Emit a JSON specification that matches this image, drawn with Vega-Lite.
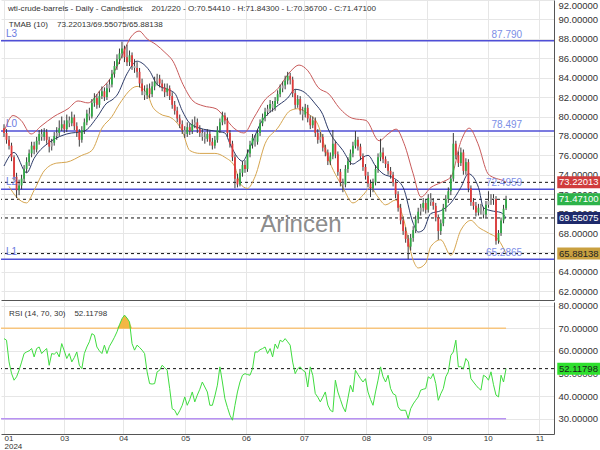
{
"$schema":"https://vega.github.io/schema/vega-lite/v6.json",
"padding":0,
"background":"white",
"spacing":0,
"config":{"view":{"stroke":null},"font":"Liberation Sans","scale":{"continuousPadding":0},"axis":{"gridColor":"#e6e6e6","domainColor":"#555555","labelColor":"#333333","labelFont":"Liberation Sans","labelFontSize":9.5,"ticks":false,"labelOverlap":false,"labelBound":false}},
"datasets":{
"c":[
{"i":0,"o":78.8,"h":79.2,"l":77.9,"c":78.3},{"i":1,"o":78.3,"h":78.7,"l":77.2,"c":77.6},{"i":2,"o":77.6,"h":78.0,"l":76.6,"c":77.0},{"i":3,"o":77.0,"h":77.3,"l":75.4,"c":75.8},{"i":4,"o":75.8,"h":76.0,"l":73.4,"c":73.8},{"i":5,"o":73.8,"h":74.2,"l":71.6,"c":72.4},{"i":6,"o":72.4,"h":73.5,"l":71.9,"c":72.9},{"i":7,"o":72.9,"h":74.0,"l":72.5,"c":73.6},{"i":8,"o":73.6,"h":75.0,"l":73.2,"c":74.6},{"i":9,"o":74.6,"h":75.8,"l":74.2,"c":75.3},
{"i":10,"o":75.3,"h":76.6,"l":74.9,"c":76.2},{"i":11,"o":76.2,"h":77.4,"l":75.8,"c":77.0},{"i":12,"o":77.0,"h":77.4,"l":76.1,"c":76.6},{"i":13,"o":76.6,"h":77.9,"l":76.3,"c":77.5},{"i":14,"o":77.5,"h":78.6,"l":77.1,"c":78.2},{"i":15,"o":78.2,"h":78.7,"l":77.5,"c":77.9},{"i":16,"o":77.9,"h":78.8,"l":77.5,"c":78.4},{"i":17,"o":78.4,"h":78.7,"l":77.2,"c":77.6},{"i":18,"o":77.6,"h":77.9,"l":76.3,"c":76.9},{"i":19,"o":76.9,"h":77.7,"l":76.5,"c":77.3},
{"i":20,"o":77.3,"h":78.4,"l":77.0,"c":78.0},{"i":21,"o":78.0,"h":78.9,"l":77.6,"c":78.3},{"i":22,"o":78.3,"h":79.6,"l":78.0,"c":78.8},{"i":23,"o":78.8,"h":80.0,"l":78.5,"c":79.2},{"i":24,"o":79.2,"h":79.6,"l":78.3,"c":78.7},{"i":25,"o":78.7,"h":80.2,"l":78.4,"c":79.6},{"i":26,"o":79.6,"h":80.0,"l":78.9,"c":79.3},{"i":27,"o":79.3,"h":80.5,"l":79.0,"c":79.9},{"i":28,"o":79.9,"h":80.2,"l":78.6,"c":79.0},{"i":29,"o":79.0,"h":79.4,"l":77.9,"c":78.4},
{"i":30,"o":78.4,"h":78.7,"l":76.9,"c":77.6},{"i":31,"o":77.6,"h":79.0,"l":77.3,"c":78.6},{"i":32,"o":78.6,"h":79.8,"l":78.2,"c":79.4},{"i":33,"o":79.4,"h":80.7,"l":79.1,"c":80.3},{"i":34,"o":80.3,"h":80.9,"l":79.6,"c":80.0},{"i":35,"o":80.0,"h":81.8,"l":79.8,"c":81.4},{"i":36,"o":81.4,"h":82.4,"l":81.0,"c":81.9},{"i":37,"o":81.9,"h":82.3,"l":80.8,"c":81.2},{"i":38,"o":81.2,"h":82.6,"l":80.9,"c":82.1},{"i":39,"o":82.1,"h":83.1,"l":81.8,"c":82.6},
{"i":40,"o":82.6,"h":83.0,"l":81.6,"c":82.0},{"i":41,"o":82.0,"h":83.4,"l":81.7,"c":82.9},{"i":42,"o":82.9,"h":83.8,"l":82.5,"c":83.3},{"i":43,"o":83.3,"h":84.8,"l":83.0,"c":84.4},{"i":44,"o":84.4,"h":85.7,"l":84.0,"c":85.2},{"i":45,"o":85.2,"h":86.4,"l":84.8,"c":85.9},{"i":46,"o":85.9,"h":87.0,"l":85.4,"c":86.5},{"i":47,"o":86.5,"h":87.7,"l":86.0,"c":87.0},{"i":48,"o":87.0,"h":87.3,"l":85.6,"c":86.1},{"i":49,"o":86.1,"h":87.4,"l":85.2,"c":85.6},
{"i":50,"o":85.6,"h":86.8,"l":85.2,"c":86.3},{"i":51,"o":86.3,"h":86.6,"l":84.8,"c":85.2},{"i":52,"o":85.2,"h":85.9,"l":84.5,"c":85.0},{"i":53,"o":85.0,"h":85.6,"l":84.0,"c":84.6},{"i":54,"o":84.6,"h":85.0,"l":83.0,"c":83.4},{"i":55,"o":83.4,"h":83.9,"l":82.2,"c":82.6},{"i":56,"o":82.6,"h":83.2,"l":81.7,"c":82.2},{"i":57,"o":82.2,"h":83.3,"l":81.8,"c":82.9},{"i":58,"o":82.9,"h":83.4,"l":81.9,"c":82.3},{"i":59,"o":82.3,"h":83.6,"l":82.0,"c":83.1},
{"i":60,"o":83.1,"h":84.1,"l":82.7,"c":83.6},{"i":61,"o":83.6,"h":84.4,"l":83.2,"c":83.9},{"i":62,"o":83.9,"h":84.3,"l":83.0,"c":83.4},{"i":63,"o":83.4,"h":83.8,"l":82.6,"c":83.0},{"i":64,"o":83.0,"h":83.4,"l":82.0,"c":82.5},{"i":65,"o":82.5,"h":83.4,"l":82.1,"c":82.9},{"i":66,"o":82.9,"h":83.2,"l":81.7,"c":82.1},{"i":67,"o":82.1,"h":82.5,"l":80.8,"c":81.2},{"i":68,"o":81.2,"h":81.6,"l":80.2,"c":80.6},{"i":69,"o":80.6,"h":81.0,"l":79.4,"c":79.8},
{"i":70,"o":79.8,"h":80.2,"l":78.8,"c":79.2},{"i":71,"o":79.2,"h":79.6,"l":78.2,"c":78.6},{"i":72,"o":78.6,"h":79.0,"l":77.8,"c":78.2},{"i":73,"o":78.2,"h":79.4,"l":77.9,"c":78.9},{"i":74,"o":78.9,"h":79.3,"l":78.1,"c":78.5},{"i":75,"o":78.5,"h":79.7,"l":78.2,"c":79.2},{"i":76,"o":79.2,"h":80.0,"l":78.8,"c":79.4},{"i":77,"o":79.4,"h":79.8,"l":78.3,"c":78.7},{"i":78,"o":78.7,"h":79.1,"l":77.9,"c":78.3},{"i":79,"o":78.3,"h":78.7,"l":77.5,"c":77.9},
{"i":80,"o":77.9,"h":78.4,"l":77.2,"c":77.7},{"i":81,"o":77.7,"h":78.7,"l":77.4,"c":78.2},{"i":82,"o":78.2,"h":78.5,"l":77.0,"c":77.4},{"i":83,"o":77.4,"h":77.8,"l":76.6,"c":77.0},{"i":84,"o":77.0,"h":78.0,"l":76.7,"c":77.6},{"i":85,"o":77.6,"h":79.0,"l":77.3,"c":78.6},{"i":86,"o":78.6,"h":79.8,"l":78.3,"c":79.4},{"i":87,"o":79.4,"h":80.5,"l":79.1,"c":80.1},{"i":88,"o":80.1,"h":80.4,"l":79.2,"c":79.6},{"i":89,"o":79.6,"h":79.9,"l":77.9,"c":78.3},
{"i":90,"o":78.3,"h":78.6,"l":76.8,"c":77.2},{"i":91,"o":77.2,"h":77.5,"l":75.4,"c":75.8},{"i":92,"o":75.8,"h":76.1,"l":72.6,"c":73.6},{"i":93,"o":73.6,"h":74.1,"l":72.7,"c":73.0},{"i":94,"o":73.0,"h":74.6,"l":72.8,"c":74.2},{"i":95,"o":74.2,"h":75.4,"l":73.8,"c":75.0},{"i":96,"o":75.0,"h":75.5,"l":74.2,"c":74.6},{"i":97,"o":74.6,"h":76.6,"l":74.3,"c":76.2},{"i":98,"o":76.2,"h":77.5,"l":75.8,"c":77.1},{"i":99,"o":77.1,"h":78.2,"l":76.7,"c":77.8},
{"i":100,"o":77.8,"h":78.1,"l":76.9,"c":77.4},{"i":101,"o":77.4,"h":78.7,"l":77.1,"c":78.3},{"i":102,"o":78.3,"h":79.7,"l":78.0,"c":79.3},{"i":103,"o":79.3,"h":80.3,"l":79.0,"c":79.9},{"i":104,"o":79.9,"h":80.9,"l":79.5,"c":80.5},{"i":105,"o":80.5,"h":81.2,"l":80.1,"c":80.8},{"i":106,"o":80.8,"h":81.7,"l":80.4,"c":81.3},{"i":107,"o":81.3,"h":81.6,"l":80.5,"c":80.9},{"i":108,"o":80.9,"h":82.0,"l":80.6,"c":81.6},{"i":109,"o":81.6,"h":82.7,"l":81.3,"c":82.3},
{"i":110,"o":82.3,"h":83.3,"l":82.0,"c":82.9},{"i":111,"o":82.9,"h":83.6,"l":82.5,"c":83.2},{"i":112,"o":83.2,"h":84.2,"l":82.8,"c":83.7},{"i":113,"o":83.7,"h":84.6,"l":83.3,"c":84.2},{"i":114,"o":84.2,"h":84.5,"l":83.3,"c":83.8},{"i":115,"o":83.8,"h":84.1,"l":82.0,"c":82.4},{"i":116,"o":82.4,"h":82.8,"l":80.8,"c":81.2},{"i":117,"o":81.2,"h":82.2,"l":80.9,"c":81.8},{"i":118,"o":81.8,"h":82.1,"l":80.2,"c":80.6},{"i":119,"o":80.6,"h":81.0,"l":79.6,"c":80.2},
{"i":120,"o":80.2,"h":81.3,"l":79.9,"c":80.9},{"i":121,"o":80.9,"h":81.2,"l":79.4,"c":79.8},{"i":122,"o":79.8,"h":80.1,"l":78.7,"c":79.1},{"i":123,"o":79.1,"h":80.0,"l":78.8,"c":79.6},{"i":124,"o":79.6,"h":79.9,"l":77.9,"c":78.3},{"i":125,"o":78.3,"h":78.7,"l":77.2,"c":77.6},{"i":126,"o":77.6,"h":78.4,"l":77.3,"c":77.9},{"i":127,"o":77.9,"h":78.2,"l":76.4,"c":76.8},{"i":128,"o":76.8,"h":77.1,"l":75.9,"c":76.3},{"i":129,"o":76.3,"h":76.6,"l":75.0,"c":75.4},
{"i":130,"o":75.4,"h":76.3,"l":75.0,"c":75.9},{"i":131,"o":75.9,"h":78.6,"l":75.6,"c":77.2},{"i":132,"o":77.2,"h":77.5,"l":75.7,"c":76.1},{"i":133,"o":76.1,"h":76.4,"l":73.9,"c":74.3},{"i":134,"o":74.3,"h":74.6,"l":72.8,"c":73.2},{"i":135,"o":73.2,"h":73.6,"l":72.2,"c":73.0},{"i":136,"o":73.0,"h":75.0,"l":72.7,"c":74.6},{"i":137,"o":74.6,"h":75.8,"l":74.2,"c":75.4},{"i":138,"o":75.4,"h":76.6,"l":75.0,"c":76.2},{"i":139,"o":76.2,"h":77.4,"l":75.8,"c":77.0},
{"i":140,"o":77.0,"h":78.5,"l":76.7,"c":77.6},{"i":141,"o":77.6,"h":77.9,"l":76.5,"c":76.9},{"i":142,"o":76.9,"h":77.2,"l":75.5,"c":75.9},{"i":143,"o":75.9,"h":76.2,"l":74.4,"c":74.8},{"i":144,"o":74.8,"h":75.1,"l":73.5,"c":73.9},{"i":145,"o":73.9,"h":74.3,"l":72.7,"c":73.1},{"i":146,"o":73.1,"h":73.5,"l":71.7,"c":72.6},{"i":147,"o":72.6,"h":73.6,"l":72.2,"c":73.2},{"i":148,"o":73.2,"h":75.0,"l":72.9,"c":74.6},{"i":149,"o":74.6,"h":76.2,"l":74.2,"c":75.8},
{"i":150,"o":75.8,"h":77.7,"l":75.4,"c":76.3},{"i":151,"o":76.3,"h":76.8,"l":75.2,"c":75.6},{"i":152,"o":75.6,"h":75.9,"l":74.7,"c":75.1},{"i":153,"o":75.1,"h":75.4,"l":74.0,"c":74.4},{"i":154,"o":74.4,"h":74.8,"l":73.6,"c":74.0},{"i":155,"o":74.0,"h":74.3,"l":72.8,"c":73.2},{"i":156,"o":73.2,"h":73.5,"l":71.6,"c":72.0},{"i":157,"o":72.0,"h":72.3,"l":70.2,"c":70.6},{"i":158,"o":70.6,"h":71.0,"l":68.9,"c":69.3},{"i":159,"o":69.3,"h":69.7,"l":67.8,"c":68.2},
{"i":160,"o":68.2,"h":68.6,"l":67.0,"c":67.4},{"i":161,"o":67.4,"h":67.8,"l":65.3,"c":66.6},{"i":162,"o":66.6,"h":67.9,"l":66.2,"c":67.5},{"i":163,"o":67.5,"h":68.7,"l":67.1,"c":68.3},{"i":164,"o":68.3,"h":69.8,"l":68.0,"c":69.4},{"i":165,"o":69.4,"h":70.6,"l":69.0,"c":70.2},{"i":166,"o":70.2,"h":71.0,"l":69.8,"c":70.6},{"i":167,"o":70.6,"h":71.6,"l":70.2,"c":71.1},{"i":168,"o":71.1,"h":71.5,"l":70.0,"c":70.4},{"i":169,"o":70.4,"h":72.0,"l":70.1,"c":71.6},
{"i":170,"o":71.6,"h":72.1,"l":70.8,"c":71.2},{"i":171,"o":71.2,"h":71.6,"l":70.4,"c":70.8},{"i":172,"o":70.8,"h":71.1,"l":69.2,"c":69.6},{"i":173,"o":69.6,"h":69.9,"l":67.3,"c":68.2},{"i":174,"o":68.2,"h":69.4,"l":67.8,"c":69.0},{"i":175,"o":69.0,"h":71.0,"l":68.7,"c":70.6},{"i":176,"o":70.6,"h":71.9,"l":70.2,"c":71.5},{"i":177,"o":71.5,"h":72.7,"l":71.1,"c":72.3},{"i":178,"o":72.3,"h":74.0,"l":71.9,"c":73.6},{"i":179,"o":73.6,"h":78.3,"l":73.3,"c":77.2},
{"i":180,"o":77.2,"h":77.5,"l":75.6,"c":76.0},{"i":181,"o":76.0,"h":76.4,"l":74.8,"c":75.2},{"i":182,"o":75.2,"h":76.8,"l":74.9,"c":76.3},{"i":183,"o":76.3,"h":76.6,"l":74.0,"c":74.4},{"i":184,"o":74.4,"h":75.7,"l":74.0,"c":75.3},{"i":185,"o":75.3,"h":75.6,"l":72.2,"c":72.6},{"i":186,"o":72.6,"h":72.9,"l":70.8,"c":71.2},{"i":187,"o":71.2,"h":71.6,"l":70.4,"c":70.8},{"i":188,"o":70.8,"h":71.2,"l":69.7,"c":70.1},{"i":189,"o":70.1,"h":71.0,"l":69.8,"c":70.6},
{"i":190,"o":70.6,"h":71.0,"l":69.9,"c":70.3},{"i":191,"o":70.3,"h":70.7,"l":69.5,"c":69.9},{"i":192,"o":69.9,"h":71.3,"l":69.6,"c":70.9},{"i":193,"o":70.9,"h":72.3,"l":70.6,"c":71.3},{"i":194,"o":71.3,"h":72.0,"l":70.9,"c":71.6},{"i":195,"o":71.6,"h":72.0,"l":70.9,"c":71.5},{"i":196,"o":71.5,"h":71.8,"l":66.8,"c":67.2},{"i":197,"o":67.2,"h":68.3,"l":66.9,"c":68.0},{"i":198,"o":68.0,"h":69.6,"l":67.7,"c":69.3},{"i":199,"o":69.3,"h":70.9,"l":69.0,"c":70.5},
{"i":200,"o":70.5441,"h":71.843,"l":70.367,"c":71.471}
],
"up":[
{"i":0,"v":78.4},{"i":3.6,"v":80.1},{"i":6.8,"v":79.6},{"i":10.8,"v":78.2},{"i":14.7,"v":79.0},{"i":19.9,"v":80.0},{"i":25.5,"v":80.8},{"i":29.5,"v":81.6},{"i":33.5,"v":81.4},{"i":38.6,"v":82.8},{"i":42.6,"v":84.0},{"i":46.6,"v":86.0},{"i":50.6,"v":88.2},{"i":53.8,"v":88.8},{"i":57,"v":88.0},{"i":60.6,"v":87.4},{"i":64.1,"v":86.6},{"i":67.3,"v":85.7},{"i":71.3,"v":83.3},{"i":75.3,"v":81.6},{"i":79.3,"v":81.1},{"i":84.5,"v":80.8},{"i":87.6,"v":80.0},{"i":91.6,"v":78.8},{"i":95.6,"v":78.3},{"i":99.6,"v":79.9},{"i":103.6,"v":81.6},{"i":109.2,"v":82.9},{"i":114.3,"v":84.7},{"i":117.5,"v":85.3},{"i":121.1,"v":84.7},{"i":125.1,"v":83.0},{"i":129.5,"v":82.3},{"i":133.5,"v":80.9},{"i":139,"v":79.8},{"i":144.2,"v":79.6},{"i":149.4,"v":77.5},{"i":153,"v":78.2},{"i":156.2,"v":78.7},{"i":159.4,"v":77.2},{"i":163,"v":74.1},{"i":166.1,"v":71.7},{"i":170.1,"v":72.7},{"i":174.1,"v":73.2},{"i":178.1,"v":73.8},{"i":182.1,"v":77.5},{"i":185.3,"v":78.8},{"i":188.8,"v":77.2},{"i":192.8,"v":74.1},{"i":195.2,"v":73.7},{"i":198.8,"v":73.4},{"i":200,"v":73.22}
],
"mid":[
{"i":0,"v":74.9},{"i":4,"v":76.3},{"i":9,"v":74.2},{"i":12,"v":75.7},{"i":19,"v":77.5},{"i":25,"v":78.2},{"i":32,"v":78.5},{"i":37,"v":79.9},{"i":41,"v":81.4},{"i":43,"v":81.7},{"i":45,"v":82.2},{"i":49,"v":84.4},{"i":53,"v":85.7},{"i":55,"v":85.5},{"i":58,"v":84.7},{"i":61,"v":83.3},{"i":65,"v":82.8},{"i":68,"v":82.4},{"i":71,"v":80.6},{"i":74,"v":79.3},{"i":78,"v":78.8},{"i":84,"v":78.5},{"i":88,"v":78.3},{"i":90,"v":77.2},{"i":93,"v":75.8},{"i":95,"v":75.4},{"i":98,"v":76.8},{"i":102,"v":79.2},{"i":108,"v":80.9},{"i":113,"v":81.9},{"i":116,"v":82.8},{"i":119,"v":82.6},{"i":124,"v":81.3},{"i":127,"v":80.2},{"i":129,"v":78.8},{"i":135,"v":76.5},{"i":139,"v":75.1},{"i":141,"v":75.4},{"i":145,"v":76.0},{"i":148,"v":74.9},{"i":151,"v":74.1},{"i":155,"v":73.7},{"i":159,"v":72.7},{"i":163,"v":69.0},{"i":165,"v":68.1},{"i":167,"v":68.3},{"i":170,"v":70.0},{"i":174,"v":70.3},{"i":178,"v":71.1},{"i":182,"v":72.7},{"i":185,"v":74.1},{"i":189,"v":72.7},{"i":191,"v":70.6},{"i":194,"v":70.3},{"i":198,"v":70.1},{"i":200,"v":69.55}
],
"low":[
{"i":2,"v":72.8},{"i":5,"v":71.7},{"i":9,"v":71.1},{"i":12,"v":72.4},{"i":16,"v":74.4},{"i":21,"v":75.2},{"i":25,"v":75.3},{"i":31,"v":76.0},{"i":35,"v":76.5},{"i":39,"v":78.8},{"i":43,"v":80.0},{"i":46,"v":81.3},{"i":53,"v":83.1},{"i":57,"v":82.4},{"i":59,"v":81.1},{"i":62,"v":80.3},{"i":67,"v":79.8},{"i":71,"v":78.5},{"i":74,"v":76.5},{"i":78,"v":76.2},{"i":84,"v":76.2},{"i":88,"v":75.8},{"i":92,"v":74.8},{"i":94,"v":73.1},{"i":97,"v":72.6},{"i":100,"v":73.8},{"i":104,"v":77.2},{"i":109,"v":78.8},{"i":114,"v":80.6},{"i":117,"v":80.8},{"i":121,"v":80.3},{"i":125,"v":79.2},{"i":129,"v":75.8},{"i":135,"v":72.7},{"i":139,"v":71.1},{"i":143,"v":71.9},{"i":146,"v":72.7},{"i":149,"v":71.7},{"i":152,"v":70.9},{"i":156,"v":71.4},{"i":159,"v":69.6},{"i":163,"v":65.2},{"i":165,"v":64.4},{"i":168,"v":64.9},{"i":170,"v":66.6},{"i":174,"v":67.3},{"i":178,"v":65.7},{"i":182,"v":68.3},{"i":186,"v":69.3},{"i":189,"v":68.6},{"i":193,"v":68.0},{"i":197,"v":67.3},{"i":200,"v":65.88}
],
"r":[
{"i":0,"r":65.4},{"i":1,"r":64.7},{"i":2,"r":55.1},{"i":3,"r":50.0},{"i":4,"r":47.0},{"i":5,"r":48.5},{"i":6,"r":51.4},{"i":7,"r":55.0},{"i":8,"r":58.8},{"i":9,"r":59.5},{"i":10,"r":60.0},{"i":11,"r":61.0},{"i":12,"r":57.3},{"i":13,"r":61.0},{"i":14,"r":61.7},{"i":15,"r":58.8},{"i":16,"r":60.0},{"i":17,"r":61.0},{"i":18,"r":53.6},{"i":19,"r":58.8},
{"i":20,"r":58.5},{"i":21,"r":59.5},{"i":22,"r":57.3},{"i":23,"r":63.2},{"i":24,"r":60.0},{"i":25,"r":56.6},{"i":26,"r":58.8},{"i":27,"r":55.1},{"i":28,"r":57.0},{"i":29,"r":59.5},{"i":30,"r":53.6},{"i":31,"r":52.1},{"i":32,"r":58.8},{"i":33,"r":61.7},{"i":34,"r":64.0},{"i":35,"r":67.6},{"i":36,"r":66.9},{"i":37,"r":61.7},{"i":38,"r":60.0},{"i":39,"r":58.8},
{"i":40,"r":62.5},{"i":41,"r":58.8},{"i":42,"r":62.0},{"i":43,"r":63.9},{"i":44,"r":66.0},{"i":45,"r":68.4},{"i":46,"r":71.5},{"i":47,"r":74.2},{"i":48,"r":75.8},{"i":49,"r":74.5},{"i":50,"r":72.8},{"i":51,"r":63.2},{"i":52,"r":60.3},{"i":53,"r":62.5},{"i":54,"r":61.5},{"i":55,"r":60.3},{"i":56,"r":58.8},{"i":57,"r":50.7},{"i":58,"r":45.5},{"i":59,"r":45.3},
{"i":60,"r":45.5},{"i":61,"r":50.7},{"i":62,"r":51.4},{"i":63,"r":53.6},{"i":64,"r":52.5},{"i":65,"r":51.4},{"i":66,"r":43.3},{"i":67,"r":34.4},{"i":68,"r":33.7},{"i":69,"r":31.5},{"i":70,"r":33.5},{"i":71,"r":35.9},{"i":72,"r":39.6},{"i":73,"r":35.9},{"i":74,"r":38.5},{"i":75,"r":41.8},{"i":76,"r":37.4},{"i":77,"r":40.4},{"i":78,"r":43.0},{"i":79,"r":46.2},
{"i":80,"r":44.0},{"i":81,"r":41.8},{"i":82,"r":35.9},{"i":83,"r":35.9},{"i":84,"r":40.0},{"i":85,"r":44.8},{"i":86,"r":52.9},{"i":87,"r":46.2},{"i":88,"r":38.8},{"i":89,"r":35.0},{"i":90,"r":31.5},{"i":91,"r":29.3},{"i":92,"r":35.9},{"i":93,"r":41.8},{"i":94,"r":46.2},{"i":95,"r":49.2},{"i":96,"r":49.9},{"i":97,"r":49.5},{"i":98,"r":49.2},{"i":99,"r":52.1},
{"i":100,"r":59.5},{"i":101,"r":59.5},{"i":102,"r":60.5},{"i":103,"r":61.0},{"i":104,"r":61.7},{"i":105,"r":58.8},{"i":106,"r":61.0},{"i":107,"r":57.3},{"i":108,"r":63.0},{"i":109,"r":61.0},{"i":110,"r":64.7},{"i":111,"r":64.0},{"i":112,"r":65.4},{"i":113,"r":64.0},{"i":114,"r":62.5},{"i":115,"r":55.0},{"i":116,"r":49.9},{"i":117,"r":52.1},{"i":118,"r":52.9},{"i":119,"r":51.4},
{"i":120,"r":50.7},{"i":121,"r":44.0},{"i":122,"r":52.9},{"i":123,"r":49.2},{"i":124,"r":41.1},{"i":125,"r":39.5},{"i":126,"r":37.4},{"i":127,"r":39.5},{"i":128,"r":41.8},{"i":129,"r":36.0},{"i":130,"r":33.7},{"i":131,"r":33.0},{"i":132,"r":47.0},{"i":133,"r":41.8},{"i":134,"r":38.5},{"i":135,"r":35.2},{"i":136,"r":33.0},{"i":137,"r":39.0},{"i":138,"r":44.8},{"i":139,"r":41.8},
{"i":140,"r":51.4},{"i":141,"r":49.5},{"i":142,"r":47.7},{"i":143,"r":46.2},{"i":144,"r":47.7},{"i":145,"r":41.8},{"i":146,"r":38.5},{"i":147,"r":35.9},{"i":148,"r":41.8},{"i":149,"r":47.0},{"i":150,"r":52.9},{"i":151,"r":48.5},{"i":152,"r":46.2},{"i":153,"r":49.2},{"i":154,"r":43.3},{"i":155,"r":41.0},{"i":156,"r":40.4},{"i":157,"r":35.2},{"i":158,"r":33.7},{"i":159,"r":33.7},
{"i":160,"r":33.7},{"i":161,"r":30.0},{"i":162,"r":34.4},{"i":163,"r":36.5},{"i":164,"r":38.1},{"i":165,"r":39.6},{"i":166,"r":42.6},{"i":167,"r":43.0},{"i":168,"r":43.3},{"i":169,"r":48.5},{"i":170,"r":47.7},{"i":171,"r":49.9},{"i":172,"r":45.5},{"i":173,"r":38.1},{"i":174,"r":41.0},{"i":175,"r":43.3},{"i":176,"r":48.5},{"i":177,"r":50.7},{"i":178,"r":58.0},{"i":179,"r":59.5},
{"i":180,"r":64.7},{"i":181,"r":52.9},{"i":182,"r":53.0},{"i":183,"r":52.1},{"i":184,"r":56.6},{"i":185,"r":55.1},{"i":186,"r":47.7},{"i":187,"r":46.2},{"i":188,"r":44.8},{"i":189,"r":43.5},{"i":190,"r":42.6},{"i":191,"r":49.2},{"i":192,"r":48.5},{"i":193,"r":47.0},{"i":194,"r":50.7},{"i":195,"r":45.0},{"i":196,"r":40.4},{"i":197,"r":39.6},{"i":198,"r":49.2},{"i":199,"r":46.2},
{"i":200,"r":52.11798}
],
"lv":[{"v":87.79,"n":"L3","t":"87.790"},{"v":78.497,"n":"L0","t":"78.497"},{"v":72.4959,"n":"L2","t":"72.4959"},{"v":65.2865,"n":"L1","t":"65.2865"}],
"dl":[{"v":73.22013},{"v":71.471},{"v":69.55075},{"v":65.88138}],
"tg":[{"k":"upper","v":73.22013,"t":"73.22013"},{"k":"close","v":71.471,"t":"71.47100"},{"k":"mid","v":69.55075,"t":"69.55075"},{"k":"lower","v":65.88138,"t":"65.88138"}],
"rt":[{"k":"rsi","v":52.11798,"t":"52.11798"}],
"one":[{}]
},
"vconcat":[
{
"width":553,"height":300,
"resolve":{"axis":{"x":"independent","y":"independent"}},
"layer":[
{"data":{"name":"lv"},"mark":{"type":"rule","color":"#4f4fd6","strokeWidth":1.5},
 "encoding":{"y":{"field":"v","type":"quantitative","title":null,"scale":{"domain":[61.1,92],"nice":false,"zero":false,"padding":0},
   "axis":{"orient":"right","values":[62,64,66,68,70,72,74,76,78,80,82,84,86,88,90,92],"format":".5f","labelFlush":true,"labelOverlap":false,"labelSeparation":-100,"labelBound":false,"grid":true,"domain":true,"labelPadding":4}}}},
{"data":{"name":"dl"},"mark":{"type":"rule","color":"#111111","strokeWidth":1,"strokeDash":[3,3]},
 "encoding":{"y":{"field":"v","type":"quantitative","axis":null}}},
{"data":{"name":"up"},"mark":{"type":"line","color":"#c85a5a","strokeWidth":1,"interpolate":"monotone"},
 "encoding":{"x":{"field":"i","type":"quantitative","title":null,"scale":{"domain":[-1.2,219.1],"nice":false,"zero":false,"padding":0},
   "axis":{"values":[0,24,47.5,72.2,96.4,119.5,144.2,168.5,192.7,213.3],"labels":false,"grid":true,"domain":true,"domainColor":"#555555"}},
  "y":{"field":"v","type":"quantitative","axis":null}}},
{"data":{"name":"mid"},"mark":{"type":"line","color":"#2c3a68","strokeWidth":1,"interpolate":"monotone"},
 "encoding":{"x":{"field":"i","type":"quantitative","axis":null},"y":{"field":"v","type":"quantitative","axis":null}}},
{"data":{"name":"low"},"mark":{"type":"line","color":"#d6a54f","strokeWidth":1,"interpolate":"monotone"},
 "encoding":{"x":{"field":"i","type":"quantitative","axis":null},"y":{"field":"v","type":"quantitative","axis":null}}},
{"data":{"name":"c"},"mark":{"type":"rule","color":"#3a3a3a","strokeWidth":1},
 "encoding":{"x":{"field":"i","type":"quantitative","axis":null},"y":{"field":"l","type":"quantitative","axis":null},"y2":{"field":"h"}}},
{"data":{"name":"c"},"mark":{"type":"bar","size":1.8},
 "encoding":{"x":{"field":"i","type":"quantitative","axis":null},"y":{"field":"o","type":"quantitative","axis":null},"y2":{"field":"c"},
  "color":{"condition":[{"test":"abs(datum.c-datum.o)<0.4","value":"#9e9e9e"},{"test":"datum.c>=datum.o","value":"#2faa45"}],"value":"#e23a3a"}}},
{"data":{"name":"lv"},"mark":{"type":"text","align":"left","baseline":"bottom","dy":-2,"fontSize":10,"color":"#6b7be0"},
 "encoding":{"x":{"datum":0.8,"axis":null},"y":{"field":"v","type":"quantitative","axis":null},"text":{"field":"n"}}},
{"data":{"name":"lv"},"mark":{"type":"text","align":"right","baseline":"bottom","dy":-1,"fontSize":10,"color":"#7b8ee6"},
 "encoding":{"x":{"datum":206.4,"axis":null},"y":{"field":"v","type":"quantitative","axis":null},"text":{"field":"t"}}},
{"data":{"name":"one"},"mark":{"type":"text","text":"Arincen","fontSize":24,"color":"#8c8c8c","align":"center","baseline":"alphabetic"},
 "encoding":{"x":{"datum":118.3,"axis":null},"y":{"datum":68.1,"axis":null}}},
{"data":{"name":"one"},"mark":{"type":"text","text":"wti-crude-barrels - Daily - Candlestick\u00a0\u00a0\u00a0 201/220 - O:70.54410 - H:71.84300 - L:70.36700 - C:71.47100","fontSize":8.1,"color":"#333333","align":"left","baseline":"middle"},
 "encoding":{"x":{"datum":1.6,"axis":null},"y":{"datum":91.07,"axis":null}}},
{"data":{"name":"one"},"mark":{"type":"text","text":"TMAB (10)\u00a0\u00a0\u00a0 73.22013/69.55075/65.88138","fontSize":8.1,"color":"#333333","align":"left","baseline":"middle"},
 "encoding":{"x":{"datum":1.9,"axis":null},"y":{"datum":89.43,"axis":null}}},
{"data":{"name":"tg"},"mark":{"type":"bar","size":12},
 "encoding":{"x":{"datum":220.4,"axis":null},"x2":{"datum":238.5},"y":{"field":"v","type":"quantitative","axis":null},
  "color":{"field":"k","type":"nominal","legend":null,"scale":{"domain":["upper","close","mid","lower"],"range":["#d03c3c","#2db34a","#1e2a6b","#c9a040"]}}}},
{"data":{"name":"tg"},"mark":{"type":"text","align":"left","baseline":"middle","fontSize":9.5},
 "encoding":{"x":{"datum":221.1,"axis":null},"y":{"field":"v","type":"quantitative","axis":null},"text":{"field":"t"},
  "color":{"condition":{"test":"datum.k=='lower'","value":"#222222"},"value":"#ffffff"}}}
]
},
{
"width":553,"height":132,
"resolve":{"axis":{"x":"independent","y":"independent"}},
"layer":[
{"data":{"name":"one"},"mark":{"type":"rule","color":"#f7c57e","strokeWidth":1.5},
 "encoding":{"x":{"datum":-1.2,"type":"quantitative","scale":{"domain":[-1.2,219.1],"nice":false,"zero":false,"padding":0},
   "axis":{"values":[0,24,47.5,72.2,96.4,119.5,144.2,168.5,192.7,213.3],"grid":true,"domain":true,"labelFlush":5,"labelPadding":0,"labelFontSize":8,"labelLineHeight":8,"labelOverlap":false,"labelSeparation":-100,
    "labelExpr":"datum.value < 10 ? ['\u00a0\u00a001','2024'] : datum.value < 30 ? '03' : datum.value < 60 ? '04' : datum.value < 85 ? '05' : datum.value < 110 ? '06' : datum.value < 130 ? '07' : datum.value < 155 ? '08' : datum.value < 180 ? '09' : datum.value < 200 ? '10' : '11'","title":null}},
  "x2":{"datum":200},
  "y":{"datum":70,"type":"quantitative","scale":{"domain":[23.2,81.6],"nice":false,"zero":false,"padding":0},
   "axis":{"orient":"right","values":[30,40,50,60,70,80],"format":".5f","labelOverlap":false,"labelSeparation":-100,"labelBound":false,"grid":true,"domain":true,"labelPadding":4,"title":null}}}},
{"data":{"name":"one"},"mark":{"type":"rule","color":"#b892f2","strokeWidth":1.5},
 "encoding":{"x":{"datum":-1.2,"axis":null},"x2":{"datum":200},"y":{"datum":30,"axis":null}}},
{"data":{"name":"one"},"mark":{"type":"rule","color":"#111111","strokeWidth":1,"strokeDash":[3,3]},
 "encoding":{"y":{"datum":52.11798,"axis":null}}},
{"data":{"name":"r"},"transform":[{"calculate":"max(datum.r,70)","as":"ob"}],
 "mark":{"type":"area","color":"#f2b33a","opacity":0.95},
 "encoding":{"x":{"field":"i","type":"quantitative","axis":null},"y":{"field":"ob","type":"quantitative","axis":null},"y2":{"datum":70}}},
{"data":{"name":"r"},"mark":{"type":"line","color":"#3fdc3f","strokeWidth":1},
 "encoding":{"x":{"field":"i","type":"quantitative","axis":null},"y":{"field":"r","type":"quantitative","axis":null}}},
{"data":{"name":"one"},"mark":{"type":"text","text":"RSI (14, 70, 30)\u00a0\u00a0\u00a0 52.11798","fontSize":8,"color":"#333333","align":"left","baseline":"middle"},
 "encoding":{"x":{"datum":2.0,"axis":null},"y":{"datum":76.3,"axis":null}}},
{"data":{"name":"rt"},"mark":{"type":"bar","size":12,"color":"#2ee02e"},
 "encoding":{"x":{"datum":220.4,"axis":null},"x2":{"datum":238.5},"y":{"field":"v","type":"quantitative","axis":null}}},
{"data":{"name":"rt"},"mark":{"type":"text","align":"left","baseline":"middle","fontSize":9.5,"color":"#1a1a1a"},
 "encoding":{"x":{"datum":221.1,"axis":null},"y":{"field":"v","type":"quantitative","axis":null},"text":{"field":"t"}}}
]
}
]
}
